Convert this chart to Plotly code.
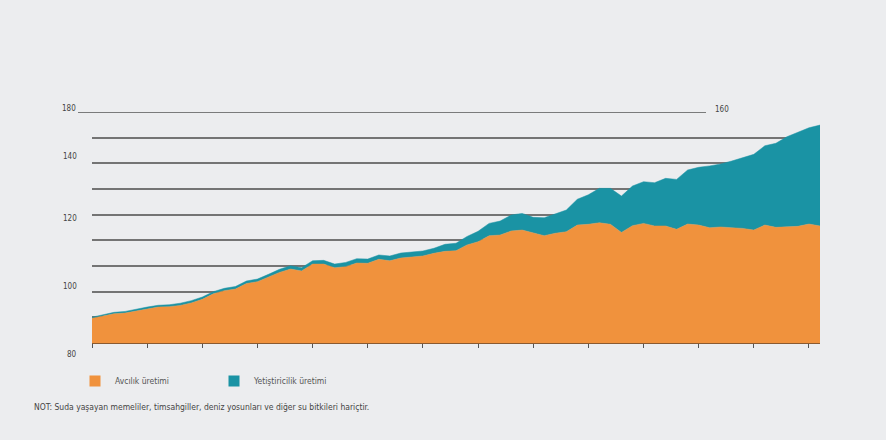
import plotly.graph_objects as go

years = list(range(1950, 2017))

capture = [19.3, 20.8, 22.8, 23.3, 25.0, 26.5, 28.0, 28.3, 29.3, 31.2,
           34.0, 38.3, 40.8, 42.0, 46.3, 47.8, 51.3, 55.0, 57.6, 56.2,
           61.5, 61.5, 58.6, 59.5, 62.3, 62.1, 65.2, 64.1, 66.2, 67.0,
           67.8, 69.9, 71.4, 71.9, 76.4, 78.9, 83.6, 84.1, 87.3, 88.0,
           85.5, 83.6, 85.5, 86.7, 91.9, 92.5, 93.7, 92.5, 86.2, 91.4,
           93.2, 91.2, 91.2, 88.6, 92.7, 91.9, 89.8, 90.4, 89.8, 89.3,
           88.0, 91.9, 90.1, 90.6, 90.9, 92.7, 91.2]

aquaculture = [0.8, 1.0, 1.1, 1.3, 1.4, 1.5, 1.4, 1.5, 1.7, 1.8,
               1.8, 1.7, 1.8, 2.0, 2.0, 2.0, 2.2, 2.4, 2.6, 2.5,
               2.6, 2.9, 2.9, 3.3, 3.4, 3.3, 3.4, 3.7, 3.9, 3.9,
               3.9, 3.9, 5.5, 5.8, 6.6, 8.1, 9.6, 10.9, 12.4, 13.0,
               12.4, 14.0, 14.8, 16.9, 20.1, 23.0, 26.8, 28.0, 28.3, 30.9,
               32.5, 33.7, 37.1, 38.9, 42.1, 45.0, 48.2, 49.1, 52.0, 55.4,
               59.0, 61.8, 65.5, 70.1, 73.2, 75.0, 78.6]

series_names = ["Avcılık üretimi", "Yetiştiricilik üretimi"]
grid_values = [20, 40, 60, 80, 100, 120, 140, 160]
x_ticks = list(range(1950, 2016, 5))
# misplaced axis labels as printed in the original
side_labels = ["180", "140", "120", "100", "80"]
top_right_label = "160"
note = "NOT: Suda yaşayan memeliler, timsahgiller, deniz yosunları ve diğer su bitkileri hariçtir."

ORANGE = "#F0923D"
TEAL = "#1A93A4"
BG = "#ECEDEF"
FONT = "Liberation Sans Narrow, DejaVu Sans Condensed, Roboto, sans-serif"

fig = go.Figure()
fig.add_trace(go.Scatter(x=years, y=capture, stackgroup="one", mode="lines",
                         line=dict(width=0.5, color=ORANGE), fillcolor=ORANGE,
                         name=series_names[0], showlegend=False))
fig.add_trace(go.Scatter(x=years, y=aquaculture, stackgroup="one", mode="lines",
                         line=dict(width=0.5, color=TEAL), fillcolor=TEAL,
                         name=series_names[1], showlegend=False))
# legend entries
for nm, col in zip(series_names, [ORANGE, TEAL]):
    fig.add_trace(go.Scatter(x=[None], y=[None], mode="markers", name=nm,
                             marker=dict(symbol="square", size=11, color=col)))

W, H = 886, 440
L, R, T, B = 92, 66, 112, 97
pw, ph = W - L - R, H - T - B

def px(xp):
    return (xp - L) / pw

def py(yp):
    return (H - B - yp) / ph

annotations = []
label_pos = [(108.5, 78), (156.5, 79), (218, 79), (286.5, 79), (354, 79)]
for txt, (ypix, xpix) in zip(side_labels, label_pos):
    annotations.append(dict(text=txt, x=px(xpix), y=py(ypix), xref="paper", yref="paper",
                            xanchor="right", yanchor="middle", showarrow=False,
                            font=dict(size=8, color="#444", family=FONT)))
annotations.append(dict(text=top_right_label, x=px(713), y=py(109), xref="paper", yref="paper",
                        xanchor="left", yanchor="middle", showarrow=False,
                        font=dict(size=8, color="#444", family=FONT)))
annotations.append(dict(text=note, x=px(32), y=py(407), xref="paper", yref="paper",
                        xanchor="left", yanchor="middle", showarrow=False,
                        font=dict(size=8.5, color="#444", family=FONT)))

fig.update_layout(
    width=W, height=H,
    margin=dict(l=L, r=R, t=T, b=B),
    paper_bgcolor=BG, plot_bgcolor=BG,
    font=dict(family=FONT, size=9, color="#555"),
    xaxis=dict(range=[1950, 2016], tickvals=x_ticks, showticklabels=False,
               ticks="outside", ticklen=4, tickwidth=1, tickcolor="#555",
               showgrid=False, zeroline=False, showline=True, linecolor="#8a5a30",
               linewidth=1),
    yaxis=dict(range=[0, 180], tickvals=grid_values, showticklabels=False,
               showgrid=True, gridcolor="#747474", gridwidth=1.5,
               zeroline=False, showline=False, ticks=""),
    legend=dict(orientation="h", x=px(75), y=py(381), xanchor="left", yanchor="middle",
                traceorder="normal",
                entrywidth=94, entrywidthmode="pixels", itemwidth=30,
                font=dict(size=8.5, color="#555", family=FONT), bgcolor="rgba(0,0,0,0)"),
    shapes=[dict(type="line", xref="paper", yref="y", x0=px(78), x1=px(706), y0=180, y1=180,
                 line=dict(color="#555", width=1.5), layer="below")],
    annotations=annotations,
)

fig.write_html("out.html", config={"displayModeBar": False},
               post_script="document.body.style.margin='0';document.body.style.background='%s';" % BG)
